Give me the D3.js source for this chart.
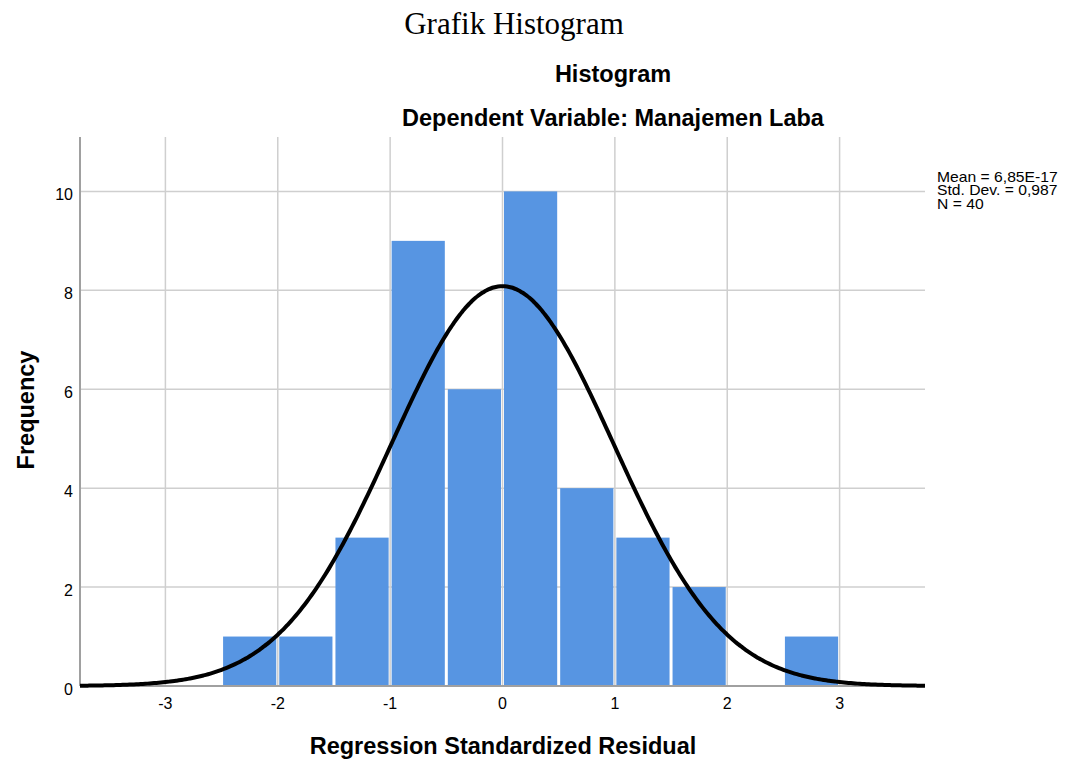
<!DOCTYPE html>
<html>
<head>
<meta charset="utf-8">
<script src="https://cdn.jsdelivr.net/npm/d3@7"></script>
<style>
    body { margin: 0; background: #fff; }
    text { font-family: "Liberation Sans", Arial, sans-serif; }
</style>
</head>
<body>
<svg id="chart"></svg>
<script>
// Histogram data (residual bins of width 0.5)
const binStarts = [-2.5, -2.0, -1.5, -1.0, -0.5, 0.0, 0.5, 1.0, 1.5, 2.0, 2.5];
const binCounts = [1, 1, 3, 9, 6, 10, 4, 3, 2, 0, 1];
const binWidth = 0.5;

const xTicks = [-3, -2, -1, 0, 1, 2, 3];
const yTicks = [0, 2, 4, 6, 8, 10];

const statMean = 6.85e-17,
    statSd = 0.987,
    statN = 40;
const statLabels = ["Mean = 6,85E-17", "Std. Dev. = 0,987", "N = 40"];

var width = 1067,
    height = 762,
    margin = { left: 80, right: 142, top: 137, bottom: 76 },
    barColor = "#5795e2",
    gridColor = "#cfcfcf";

var svg = d3.select("#chart")
    .attr("width", width)
    .attr("height", height);

var x = d3.scaleLinear()
    .domain([-3.76, 3.76])
    .range([margin.left, width - margin.right]);

var y = d3.scaleLinear()
    .domain([0, 11.1])
    .range([height - margin.bottom, margin.top]);

// Titles
svg.append("text")
    .attr("x", 514)
    .attr("y", 34)
    .attr("text-anchor", "middle")
    .style("font-family", "'Liberation Serif', 'Times New Roman', serif")
    .style("font-size", "31px")
    .text("Grafik Histogram");

svg.append("text")
    .attr("x", 613)
    .attr("y", 82)
    .attr("text-anchor", "middle")
    .style("font-size", "23.5px")
    .style("font-weight", "bold")
    .text("Histogram");

svg.append("text")
    .attr("x", 613)
    .attr("y", 126)
    .attr("text-anchor", "middle")
    .style("font-size", "23.5px")
    .style("font-weight", "bold")
    .text("Dependent Variable: Manajemen Laba");

// Grid lines
svg.append("g")
    .selectAll("line")
    .data(xTicks)
    .join("line")
    .attr("x1", d => x(d))
    .attr("x2", d => x(d))
    .attr("y1", y.range()[1])
    .attr("y2", y(0))
    .attr("stroke", gridColor)
    .attr("stroke-width", 1.5);

svg.append("g")
    .selectAll("line")
    .data(yTicks.filter(d => d > 0))
    .join("line")
    .attr("x1", x.range()[0])
    .attr("x2", x.range()[1])
    .attr("y1", d => y(d))
    .attr("y2", d => y(d))
    .attr("stroke", gridColor)
    .attr("stroke-width", 1.5);

// Bars
svg.append("g")
    .selectAll("rect")
    .data(binStarts.map((s, i) => ({ start: s, count: binCounts[i] })).filter(d => d.count > 0))
    .join("rect")
    .attr("x", d => x(d.start) + 1.5)
    .attr("width", d => x(d.start + binWidth) - x(d.start) - 3)
    .attr("y", d => y(d.count))
    .attr("height", d => y(0) - y(d.count))
    .attr("fill", barColor);

// Axes lines
svg.append("line")
    .attr("x1", x.range()[0])
    .attr("x2", x.range()[1])
    .attr("y1", y(0))
    .attr("y2", y(0))
    .attr("stroke", "#a0a0a0")
    .attr("stroke-width", 2);

svg.append("line")
    .attr("x1", x.range()[0])
    .attr("x2", x.range()[0])
    .attr("y1", y.range()[1])
    .attr("y2", y(0))
    .attr("stroke", "#a0a0a0")
    .attr("stroke-width", 2);

// Tick labels
svg.append("g")
    .selectAll("text")
    .data(xTicks)
    .join("text")
    .attr("x", d => x(d))
    .attr("y", 709)
    .attr("text-anchor", "middle")
    .style("font-size", "16px")
    .text(d => d);

svg.append("g")
    .selectAll("text")
    .data(yTicks)
    .join("text")
    .attr("x", 73)
    .attr("y", d => y(d) + 9)
    .attr("text-anchor", "end")
    .style("font-size", "16px")
    .text(d => d);

// Axis titles
svg.append("text")
    .attr("x", 503)
    .attr("y", 754)
    .attr("text-anchor", "middle")
    .style("font-size", "23.5px")
    .style("font-weight", "bold")
    .text("Regression Standardized Residual");

svg.append("text")
    .attr("transform", "translate(34,410) rotate(-90)")
    .attr("text-anchor", "middle")
    .style("font-size", "23.5px")
    .style("font-weight", "bold")
    .text("Frequency");

// Normal curve fitted from mean, sd and N
var scaleFactor = statN * binWidth / (statSd * Math.sqrt(2 * Math.PI));
var curvePoints = d3.range(-3.76, 3.7601, 0.02).map(function (v) {
    var z = (v - statMean) / statSd;
    return [v, scaleFactor * Math.exp(-0.5 * z * z)];
});

svg.append("path")
    .datum(curvePoints)
    .attr("fill", "none")
    .attr("stroke", "#000")
    .attr("stroke-width", 4)
    .attr("d", d3.line().x(d => x(d[0])).y(d => y(d[1])).curve(d3.curveBasis));

// Stats legend (glyphs are a bit wide in the original, hence the x-scale)
svg.append("g")
    .attr("transform", "translate(937,0) scale(1.12,1)")
    .selectAll("text")
    .data(statLabels)
    .join("text")
    .attr("x", 0)
    .attr("y", (d, i) => 182 + i * 13.5)
    .style("font-size", "14px")
    .text(d => d);
</script>
</body>
</html>
